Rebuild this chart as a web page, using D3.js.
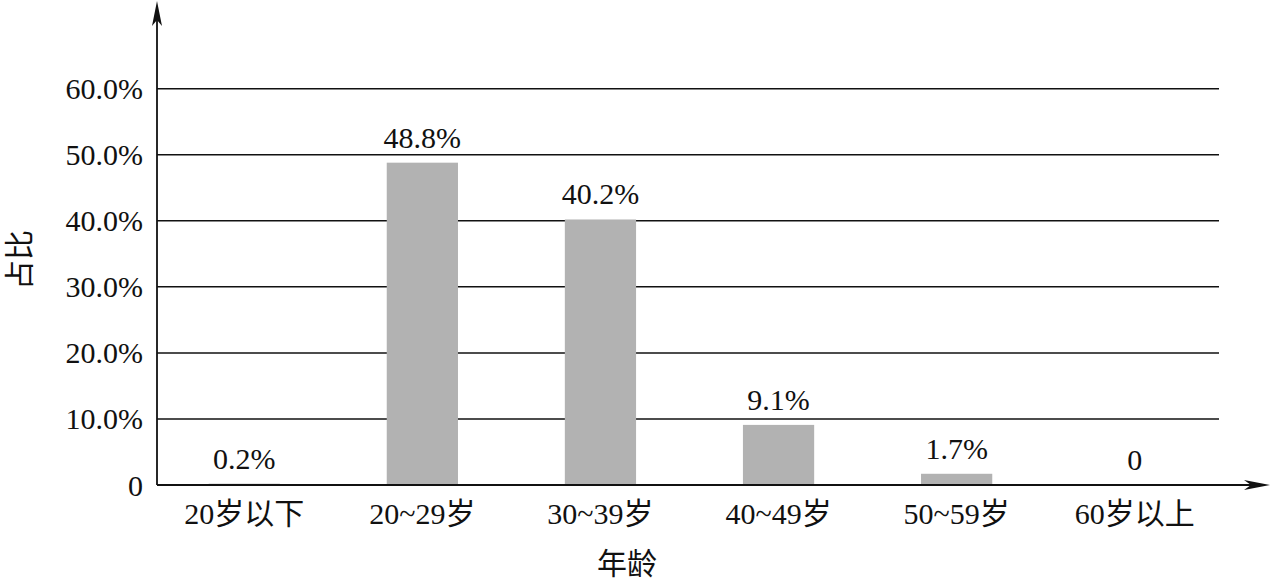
<!DOCTYPE html>
<html>
<head>
<meta charset="utf-8">
<script src="https://cdn.jsdelivr.net/npm/d3@7"></script>
<style>
  html, body { margin: 0; padding: 0; background: #fff; }
  svg { display: block; }
  text { font-family: "Liberation Serif", "Times New Roman", "Noto Sans CJK SC", serif; fill: #111; }
</style>
</head>
<body>
<svg id="chart" width="1272" height="581"></svg>
<script>
const categories = ["20岁以下", "20~29岁", "30~39岁", "40~49岁", "50~59岁", "60岁以上"];
const values = [0.2, 48.8, 40.2, 9.1, 1.7, 0];
const valueLabels = ["0.2%", "48.8%", "40.2%", "9.1%", "1.7%", "0"];
const yTicks = [0, 10, 20, 30, 40, 50, 60];
const yTickLabels = ["0", "10.0%", "20.0%", "30.0%", "40.0%", "50.0%", "60.0%"];
const xTitle = "年龄";
const yTitle = "占比";

const svg = d3.select("#chart");
const x0 = 157, gridEnd = 1219;
const x = d3.scaleBand().domain(categories).range([157, 1222]).paddingInner(0.6).paddingOuter(0.29);
const y = d3.scaleLinear().domain([0, 60]).range([485, 88.7]);

// gridlines
svg.append("g").selectAll("line").data(yTicks.filter(t => t > 0)).join("line")
  .attr("x1", x0).attr("x2", gridEnd)
  .attr("y1", d => y(d)).attr("y2", d => y(d))
  .attr("stroke", "#111").attr("stroke-width", 1.5);

// bars
svg.append("g").selectAll("rect").data(values).join("rect")
  .attr("x", (d, i) => x(categories[i]))
  .attr("width", x.bandwidth())
  .attr("y", d => y(d))
  .attr("height", d => y(0) - y(d))
  .attr("fill", "#b2b2b2");

// value labels
svg.append("g").selectAll("text").data(values).join("text")
  .attr("x", (d, i) => x(categories[i]) + x.bandwidth() / 2)
  .attr("y", d => y(d) - 15)
  .attr("text-anchor", "middle")
  .attr("font-size", 30)
  .text((d, i) => valueLabels[i]);

// y tick labels
svg.append("g").selectAll("text").data(yTicks).join("text")
  .attr("x", 143)
  .attr("y", d => y(d))
  .attr("dy", "0.35em")
  .attr("text-anchor", "end")
  .attr("font-size", 30)
  .text((d, i) => yTickLabels[i]);

// x category labels
svg.append("g").selectAll("text").data(categories).join("text")
  .attr("x", d => x(d) + x.bandwidth() / 2)
  .attr("y", 524)
  .attr("text-anchor", "middle")
  .attr("font-size", 30)
  .text(d => d);

// axes lines
svg.append("line").attr("x1", x0).attr("x2", x0).attr("y1", 10).attr("y2", y(0))
  .attr("stroke", "#111").attr("stroke-width", 1.8);
svg.append("line").attr("x1", x0).attr("x2", 1262).attr("y1", y(0)).attr("y2", y(0))
  .attr("stroke", "#111").attr("stroke-width", 1.8);

// arrowheads
svg.append("path")
  .attr("d", `M${x0},1 L${x0 - 5},26 L${x0},20 L${x0 + 5},26 Z`)
  .attr("fill", "#111");
const ay = y(0);
svg.append("path")
  .attr("d", `M1270,${ay} L1244,${ay - 5} L1251,${ay} L1244,${ay + 5} Z`)
  .attr("fill", "#111");

// axis titles
svg.append("text").attr("x", 627).attr("y", 574).attr("text-anchor", "middle")
  .attr("font-size", 30).text(xTitle);
svg.append("text")
  .attr("transform", "translate(30,260) rotate(-90)")
  .attr("text-anchor", "middle")
  .attr("font-size", 30).text(yTitle);
</script>
</body>
</html>
